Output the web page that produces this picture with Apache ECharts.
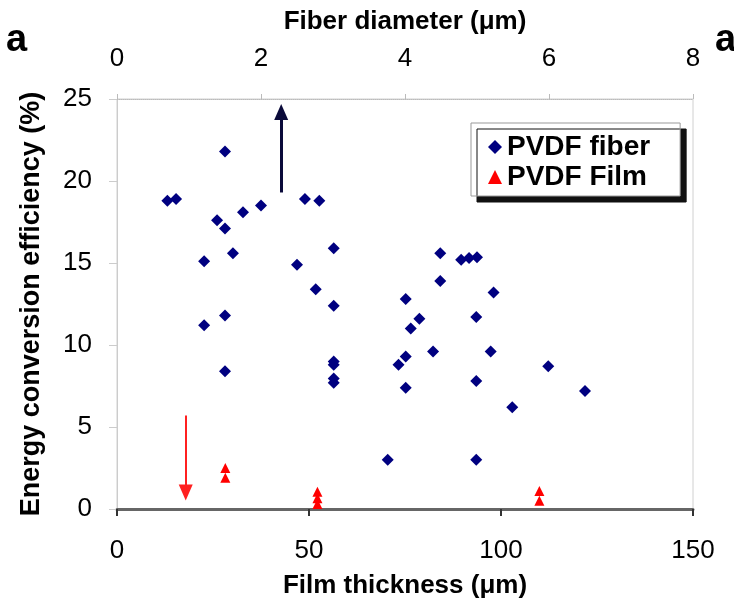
<!DOCTYPE html>
<html><head><meta charset="utf-8">
<script src="https://cdn.jsdelivr.net/npm/echarts@6/dist/echarts.min.js"></script>
<style>html,body{margin:0;padding:0;background:#fff}#c{width:734px;height:604px}</style>
</head><body><div id="c"></div>
<script>
// PVDF fiber: fiber diameter (µm) vs efficiency (%)
const fiberDiameter = [0.70,0.82,1.50,1.39,1.50,1.75,2.00,1.21,1.61,2.61,2.81,3.01,2.50,2.76,3.01,4.01,1.21,1.50,1.50,3.01,3.01,3.01,3.01,4.08,4.20,4.01,3.91,4.01,3.76,4.99,4.39,5.19,5.99,4.99,6.50,5.49,4.99,4.49,4.78,4.89,5.00,4.49,5.23];
const fiberEff      = [18.8,18.9,21.8,17.6,17.1,18.1,18.5,15.1,15.6,18.9,18.8,15.9,14.9,13.4,12.4,12.8,11.2,11.8,8.4,8.8,9.0,7.95,7.7,11.0,11.6,9.3,8.8,7.4,3.0,11.7,9.6,9.6,8.7,7.8,7.2,6.2,3.0,15.6,15.2,15.3,15.35,13.9,13.2];
// PVDF film: film thickness (µm) vs efficiency (%)
const filmThickness = [28.2,28.2,52.2,52.2,52.2,110,110];
const filmEff       = [2.5,1.9,1.05,0.65,0.3,1.1,0.5];
const bottomTicks = [0,50,100,150];
const topTicks = [0,2,4,6,8];
const yTicks = [0,5,10,15,20,25];
// annotation arrows (data coords)
const fiberArrow = [[2.28,19.3],[2.28,24.2]];
const filmArrow  = [[17.9,5.7],[17.9,1.0]];

const F = 'Liberation Sans, Arial, sans-serif';
const chart = echarts.init(document.getElementById('c'));
chart.setOption({
  animation:false,
  backgroundColor:'#fff',
  textStyle:{fontFamily:F},
  grid:{left:117,top:99,width:576,height:412,show:true,borderColor:'#d0d0d0',borderWidth:1},
  graphic:[
    {type:'text',left:6,top:22,style:{text:'a',font:'bold 38px '+F,fill:'#000'}},
    {type:'text',left:715,top:22,style:{text:'a',font:'bold 38px '+F,fill:'#000'}}
  ],
  legend:{
    orient:'vertical',left:471,top:123,
    padding:[10,30,5,17],itemGap:2,itemWidth:14,itemHeight:14,
    backgroundColor:'#fff',borderColor:'#999',borderWidth:1,
    shadowColor:'#111',shadowBlur:0,shadowOffsetX:6,shadowOffsetY:6,
    textStyle:{fontFamily:F,fontSize:28,fontWeight:'bold',color:'#000'},
    data:[{name:'PVDF fiber',icon:'diamond'},{name:'PVDF Film',icon:'triangle'}]
  },
  xAxis:[
    {type:'value',position:'bottom',min:0,max:150,interval:50,
     name:'Film thickness (μm)',nameLocation:'middle',nameGap:64,
     nameTextStyle:{fontFamily:F,fontSize:26,fontWeight:'bold',color:'#000'},
     axisLine:{show:true,lineStyle:{color:'#666',width:3}},
     axisTick:{show:true,length:7,lineStyle:{color:'#333',width:2}},
     axisLabel:{fontSize:26,color:'#000',margin:29,formatter:v=>bottomTicks.includes(v)?String(v):''},
     splitLine:{show:false}},
    {type:'value',position:'top',min:0,max:8,interval:2,
     name:'Fiber diameter (μm)',nameLocation:'middle',nameGap:64,
     nameTextStyle:{fontFamily:F,fontSize:26,fontWeight:'bold',color:'#000'},
     axisLine:{show:true,lineStyle:{color:'#bbb',width:1,type:'dotted'}},
     axisTick:{show:true,length:5,lineStyle:{color:'#bbb'}},
     axisLabel:{fontSize:26,color:'#000',margin:27,formatter:v=>topTicks.includes(v)?String(v):''},
     splitLine:{show:false}}
  ],
  yAxis:{type:'value',min:0,max:25,interval:5,
     name:'Energy conversion efficiency (%)',nameLocation:'middle',nameGap:72,
     nameTextStyle:{fontFamily:F,fontSize:27,fontWeight:'bold',color:'#000'},
     axisLine:{show:true,lineStyle:{color:'#ccc'}},
     axisTick:{show:true,length:8,lineStyle:{color:'#ccc'}},
     axisLabel:{fontSize:26,color:'#000',margin:25,formatter:v=>yTicks.includes(v)?String(v):''},
     splitLine:{show:false}},
  series:[
    {name:'PVDF fiber',type:'scatter',xAxisIndex:1,symbol:'diamond',symbolSize:12,
     itemStyle:{color:'#000080',opacity:1},
     data:fiberDiameter.map((d,i)=>[d,fiberEff[i]]),
     markLine:{silent:true,symbol:['none','triangle'],symbolSize:[14,16],
       lineStyle:{color:'#0a0a3a',width:3,type:'solid'},label:{show:false},
       data:[[{coord:fiberArrow[0]},{coord:fiberArrow[1]}]]}},
    {name:'PVDF Film',type:'scatter',xAxisIndex:0,symbol:'triangle',symbolSize:10,
     itemStyle:{color:'#ff0000',opacity:1},
     data:filmThickness.map((t,i)=>[t,filmEff[i]]),
     markLine:{silent:true,symbol:['none','triangle'],symbolSize:[14,16],
       lineStyle:{color:'#ff2020',width:2,type:'solid'},label:{show:false},
       data:[[{coord:filmArrow[0]},{coord:filmArrow[1]}]]}}
  ]
});
</script></body></html>
